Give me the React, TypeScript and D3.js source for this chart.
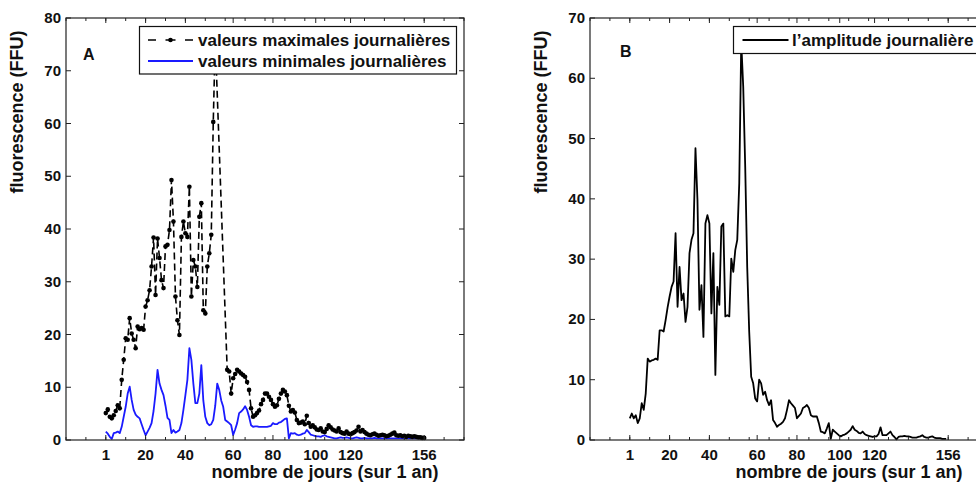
import React from 'react';
import * as d3 from 'd3';

// x positions are sample indices on the figure's axis; data start at index 20
const xStart = 20;

// Panel A: daily maxima (null = no sample drawn)
const maxValues: (number | null)[] = [
  5.1, 5.8, 4.4, 4.1, 4.7, 5.5, 6.6, 6.0, 11.4, 15.2,
  19.3, 19.0, 23.1, 20.2, 19.0, 17.4, 21.5, 21.0, 21.2, 20.9,
  25.3, 26.5, 28.4, 32.9, 38.4, 27.5, 38.2, 34.5, 30.3, 28.8,
  36.7, 37.0, 39.8, 49.3, 41.4, 27.2, 22.7, 19.9, 38.5, 41.4,
  39.2, 38.5, 48.0, 27.2, 34.1, 32.9, 29.0, 42.3, 44.9, 24.6,
  24.0, 32.9, 35.4, 38.9, 60.3, 76.0, null, null, null, null,
  null, 13.3, 13.0, 8.8, 11.7, 12.5, 13.3, 13.0, 12.6, 12.3,
  12.0, 11.0, 9.5, 6.0, 4.4, 4.7, 5.1, 5.6, 6.8, 7.6,
  8.8, 8.8, 8.2, 7.6, 6.8, 6.3, 6.6, 7.8, 8.8, 9.5,
  9.2, 8.5, 6.5, 5.4, 5.7, 5.2, 3.8, 3.2, 3.3, 3.5,
  3.0, 4.6, 3.2, 2.5, 2.8, 2.4, 2.0, 1.9, 2.2, 1.6,
  1.5, 2.1, 2.8, 2.4, 2.0, 1.8, 1.6, 2.2, 1.5, 1.3,
  1.2, 1.6, 1.2, 1.1, 1.3, 1.5, 1.8, 2.5, 1.6, 1.9,
  1.5, 1.2, 1.0, 0.9, 1.1, 1.2, 1.0, 0.8, 0.9, 1.0,
  0.9, 0.7, 0.8, 1.0, 1.2, 1.4, 0.9, 0.8, 0.9, 0.7,
  0.8, 0.6, 0.8, 0.7, 0.6, 0.7, 0.6, 0.5, 0.5, 0.4,
  0.4,
];

// Panel A: daily minima
const minValues: number[] = [
  1.6, 1.2, 0.6, 0.2, 1.3, 1.4, 1.6, 1.3, 2.5, 4.4,
  6.3, 8.8, 10.1, 7.6, 5.7, 4.8, 4.4, 4.1, 3.0, 1.9,
  0.9, 1.6, 2.3, 3.2, 5.5, 8.8, 13.3, 10.7, 9.5, 8.5,
  6.5, 4.2, 3.8, 1.3, 1.9, 1.4, 1.6, 1.9, 3.2, 5.7,
  8.5, 11.4, 17.4, 15.2, 10.7, 7.0, 7.0, 8.8, 14.2, 7.5,
  4.4, 3.2, 2.8, 3.0, 3.8, 6.5, 10.7, 9.5, 7.5, 6.3,
  3.8, 3.5, 3.2, 2.8, 0.95, 2.0, 3.2, 5.1, 5.4, 5.8,
  6.4, 5.7, 4.4, 2.8, 2.5, 2.6, 2.6, 2.5, 2.5, 2.5,
  2.5, 2.5, 2.6, 2.7, 3.2, 3.0, 3.0, 3.3, 3.4, 3.7,
  4.0, 4.1, 0.3, 1.3, 1.2, 1.3, 1.0, 0.9, 1.0, 1.2,
  1.3, 1.9, 1.5, 1.0, 0.9, 0.8, 0.7, 0.7, 0.6, 0.8,
  0.9, 0.7, 0.6, 0.5, 0.4, 0.3, 0.3, 0.4, 0.5, 0.4,
  0.4, 0.5, 0.4, 0.3, 0.3, 0.4, 0.5, 0.4, 0.3, 0.3,
  0.4, 0.3, 0.3, 0.3, 0.3, 0.4, 0.3, 0.3, 0.3, 0.3,
  0.3, 0.3, 0.3, 0.3, 0.3, 0.3, 0.3, 0.3, 0.3, 0.3,
  0.3, 0.3, 0.3, 0.3, 0.3, 0.3, 0.3, 0.3, 0.3, 0.3,
  0.3,
];

// Panel B: daily amplitude
const ampValues: number[] = [
  3.6, 4.4, 3.6, 4.1, 2.8, 3.6, 6.1, 5.0, 7.7, 13.5,
  13.0, 13.2, 13.3, 13.5, 13.3, 18.2, 18.2, 18.0, 19.9, 22.0,
  23.8, 25.4, 26.3, 34.3, 22.1, 28.7, 23.2, 24.3, 19.6, 22.1,
  31.0, 33.2, 34.3, 48.4, 39.8, 21.6, 25.7, 17.1, 35.9, 37.3,
  35.9, 21.0, 31.0, 10.8, 25.4, 22.4, 35.4, 35.9, 20.5, 20.7,
  20.5, 30.1, 27.9, 31.5, 33.2, 42.6, 66.0, 58.6, 45.3, 28.7,
  18.0, 10.5, 9.4, 6.9, 6.4, 10.0, 9.4, 7.5, 8.0, 6.6,
  5.8, 6.6, 3.3, 2.8, 2.2, 2.5, 2.7, 3.0, 3.6, 5.0,
  6.6, 6.1, 5.7, 5.3, 3.6, 4.0, 4.4, 5.3, 5.5, 5.8,
  5.3, 4.1, 3.9, 3.9, 3.9, 2.8, 1.4, 1.3, 1.1, 1.9,
  2.8, 0.2, 1.7, 1.4, 1.1, 0.8, 0.6, 0.8, 0.9, 1.1,
  1.4, 1.7, 2.3, 1.7, 1.5, 1.2, 1.1, 1.4, 1.0, 0.8,
  0.7, 0.6, 0.5, 0.6, 0.6, 1.0, 2.1, 0.8, 0.8, 0.8,
  1.1, 1.4, 0.8, 0.5, 0.1, 0.5, 0.6, 0.6, 0.7, 0.6,
  0.6, 0.5, 0.4, 0.4, 0.4, 0.5, 0.6, 0.8, 0.5, 0.4,
  0.4, 0.5, 0.6, 0.4, 0.3, 0.3, 0.3, 0.2, 0.2, 0.2,
];

const xTickPositions = [20, 40, 60, 84, 104, 125.5, 143, 180];
const xTickLabels = ['1', '20', '40', '60', '80', '100', '120', '156'];
const minorTickPositions = d3.range(0, 201, 10);
const yTicksA = d3.range(0, 81, 10);
const yTicksB = d3.range(0, 71, 10);

const legendA = ['valeurs maximales journalières', 'valeurs minimales journalières'];
const legendB = ['l’amplitude journalière'];
const xTitle = 'nombre de jours (sur 1 an)';
const yTitle = 'fluorescence (FFU)';

const FONT = '"Liberation Sans", Arial, Helvetica, sans-serif';
const BLUE = '#1a1aff';

type Pt = { x: number; y: number };
const toPoints = (vals: (number | null)[]): Pt[] =>
  vals
    .map((v, i) => (v == null ? null : { x: xStart + i, y: v }))
    .filter((p): p is Pt => p !== null);

const maxPts = toPoints(maxValues);
const minPts = toPoints(minValues);
const ampPts = toPoints(ampValues);

function Frame(props: {
  left: number;
  top: number;
  width: number;
  height: number;
  yMax: number;
  yTicks: number[];
  letter: string;
  letterX: number;
  letterY: number;
  children: (x: d3.ScaleLinear<number, number>, y: d3.ScaleLinear<number, number>) => React.ReactNode;
}) {
  const { left, top, width, height, yMax, yTicks } = props;
  const x = d3.scaleLinear().domain([0, 200]).range([left, left + width]);
  const y = d3.scaleLinear().domain([0, yMax]).range([top + height, top]);
  const bottom = top + height;
  const right = left + width;
  return (
    <g>
      {props.children(x, y)}
      {/* minor x ticks */}
      {minorTickPositions.map((t) => (
        <g key={'m' + t}>
          <line x1={x(t)} x2={x(t)} y1={bottom} y2={bottom - 3} stroke="#222" strokeWidth={1} />
          <line x1={x(t)} x2={x(t)} y1={top} y2={top + 3} stroke="#222" strokeWidth={1} />
        </g>
      ))}
      {/* major x ticks and labels */}
      {xTickPositions.map((t, i) => (
        <g key={'x' + t}>
          <line x1={x(t)} x2={x(t)} y1={bottom} y2={bottom - 5} stroke="#222" strokeWidth={1} />
          <line x1={x(t)} x2={x(t)} y1={top} y2={top + 5} stroke="#222" strokeWidth={1} />
          <text x={x(t)} y={460} textAnchor="middle" fontFamily={FONT} fontWeight="bold" fontSize={15} fill="#111">
            {xTickLabels[i]}
          </text>
        </g>
      ))}
      {/* y ticks and labels */}
      {yTicks.map((t) => (
        <g key={'y' + t}>
          <line x1={left} x2={left + 5} y1={y(t)} y2={y(t)} stroke="#222" strokeWidth={1} />
          <line x1={right} x2={right - 5} y1={y(t)} y2={y(t)} stroke="#222" strokeWidth={1} />
          <text x={left - 5} y={y(t) + 5} textAnchor="end" fontFamily={FONT} fontWeight="bold" fontSize={15} fill="#111">
            {t}
          </text>
        </g>
      ))}
      <rect x={left} y={top} width={width} height={height} fill="none" stroke="#222" strokeWidth={1.2} />
      <text x={props.letterX} y={props.letterY} fontFamily={FONT} fontWeight="bold" fontSize={16} fill="#111">
        {props.letter}
      </text>
      <text
        transform={`translate(${left - 43},${112}) rotate(-90)`}
        textAnchor="middle"
        fontFamily={FONT}
        fontWeight="bold"
        fontSize={18}
        fill="#111"
      >
        {yTitle}
      </text>
      <text x={left + 259} y={478} textAnchor="middle" fontFamily={FONT} fontWeight="bold" fontSize={18} fill="#111">
        {xTitle}
      </text>
    </g>
  );
}

export default function App() {
  const lineGen = (x: d3.ScaleLinear<number, number>, y: d3.ScaleLinear<number, number>) =>
    d3
      .line<Pt>()
      .x((d) => x(d.x))
      .y((d) => y(d.y));

  return (
    <svg
      width={976}
      height={484}
      viewBox="0 0 976 484"
      style={{ position: 'absolute', left: 0, top: 0, background: '#fff' }}
    >
      <rect x={0} y={0} width={976} height={484} fill="#fff" />
      <Frame left={66} top={18} width={398} height={422} yMax={80} yTicks={yTicksA} letter="A" letterX={83} letterY={59.5}>
        {(x, y) => (
          <g>
            <path d={lineGen(x, y)(minPts) || ''} fill="none" stroke={BLUE} strokeWidth={1.8} strokeLinejoin="round" />
            <path
              d={lineGen(x, y)(maxPts) || ''}
              fill="none"
              stroke="#000"
              strokeWidth={1.6}
              strokeDasharray="7 4"
            />
            {maxPts.map((p, i) => (
              <circle key={i} cx={x(p.x)} cy={y(p.y)} r={2.3} fill="#000" />
            ))}
            {/* legend A */}
            <rect x={139.5} y={26.5} width={317} height={47.5} fill="#fff" stroke="#111" strokeWidth={1.2} />
            <line x1={148} x2={193} y1={40} y2={40} stroke="#000" strokeWidth={1.6} strokeDasharray="8 9.5 10 9.5 8" />
            <circle cx={170.5} cy={40} r={2.3} fill="#000" />
            <text x={198} y={45.5} fontFamily={FONT} fontWeight="bold" fontSize={17} fill="#111">
              {legendA[0]}
            </text>
            <line x1={148} x2={193} y1={61} y2={61} stroke={BLUE} strokeWidth={1.8} />
            <text x={198} y={66.5} fontFamily={FONT} fontWeight="bold" fontSize={17} fill="#111">
              {legendA[1]}
            </text>
          </g>
        )}
      </Frame>
      <Frame left={590} top={18} width={398} height={422} yMax={70} yTicks={yTicksB} letter="B" letterX={620} letterY={56.7}>
        {(x, y) => (
          <g>
            <path d={lineGen(x, y)(ampPts) || ''} fill="none" stroke="#000" strokeWidth={1.8} strokeLinejoin="round" />
            <rect x={733.5} y={26.5} width={260} height={27} fill="#fff" stroke="#111" strokeWidth={1.2} />
            <line x1={742.5} x2={788.5} y1={40} y2={40} stroke="#000" strokeWidth={1.8} />
            <text x={792} y={45.5} fontFamily={FONT} fontWeight="bold" fontSize={17} fill="#111">
              {legendB[0]}
            </text>
          </g>
        )}
      </Frame>
    </svg>
  );
}
